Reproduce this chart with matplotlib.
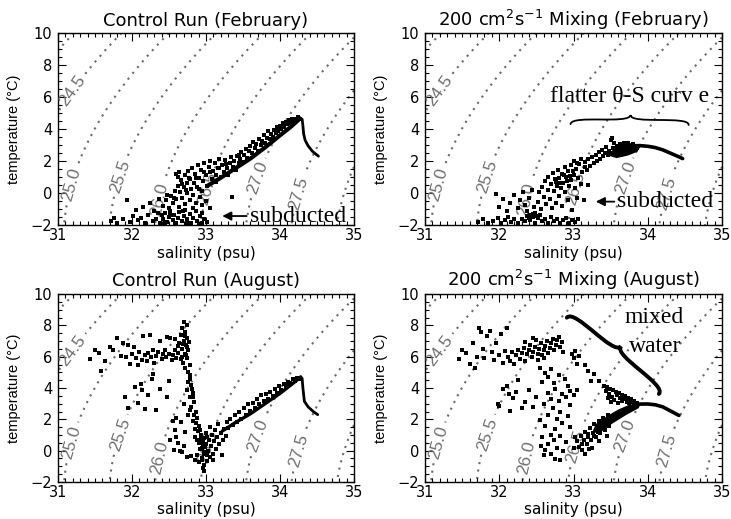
import numpy as np
import matplotlib.pyplot as plt
from matplotlib import font_manager
from matplotlib.path import Path
from matplotlib.patches import PathPatch, Polygon
from matplotlib.ticker import MultipleLocator

# density levels drawn; labels go at the positions below (24.5 ... 27.5)
sigma_levels = [24.0, 24.5, 25.0, 25.5, 26.0, 26.5, 27.0, 27.5, 28.0]
label_pos = [(31.22, 6.3), (31.12, 0.6), (31.80, 1.1), (32.34, -0.4),
             (33.00, 0.3), (33.69, 0.95), (34.24, 0.0)]

# ---- Control run, February ----
feb_ctrl_core = [(33.02, 0.45), (33.2, 0.95), (33.4, 1.55), (33.6, 2.15), (33.8, 2.85),
                 (34.0, 3.6), (34.15, 4.15), (34.27, 4.65)]
feb_ctrl_drop = [(34.27, 4.7), (34.30, 4.6), (34.31, 4.2), (34.32, 3.7), (34.34, 3.3),
                 (34.38, 2.95), (34.44, 2.6), (34.52, 2.3)]
feb_ctrl_pts = [
    (31.72, -1.75), (31.76, -1.55), (31.80, -1.85), (31.88, -1.65), (31.93, -0.45), (31.97, -1.80),
    (32.02, -1.45), (32.05, -1.05), (32.08, -1.70), (32.12, -1.55), (32.15, -0.90), (32.18, -1.85),
    (32.22, -1.35), (32.25, -0.60), (32.28, -1.75), (32.30, -1.10), (32.33, -1.60), (32.36, -0.35),
    (32.38, -1.85), (32.40, -1.40),
    (32.42, -1.65), (32.45, -1.25), (32.47, -1.80), (32.50, -1.50), (32.52, -1.10), (32.55, -1.70),
    (32.57, -1.35), (32.60, -1.85), (32.62, -1.55), (32.64, -1.20), (32.67, -1.75), (32.70, -1.45),
    (32.72, -1.05), (32.75, -1.65), (32.78, -1.30), (32.80, -1.85), (32.83, -1.55), (32.86, -1.15),
    (32.88, -1.75), (32.92, -1.45), (32.95, -1.85), (32.98, -1.60), (33.02, -1.80), (32.44, -1.90),
    (32.58, -1.92), (32.74, -1.90), (32.90, -1.92),
    (32.42, -0.80), (32.46, -0.45), (32.50, -0.95), (32.53, -0.20), (32.55, -0.65), (32.58, 0.10),
    (32.60, -0.40), (32.62, 0.45), (32.63, -0.85), (32.65, 0.05), (32.66, 0.80), (32.68, -0.30),
    (32.70, 0.35), (32.71, 1.10), (32.72, -0.70), (32.74, 0.65), (32.75, 0.00), (32.76, 1.35),
    (32.78, -0.45), (32.79, 0.90), (32.80, 0.25), (32.81, 1.55), (32.83, -0.15), (32.84, 0.60),
    (32.85, 1.20), (32.87, -0.60), (32.88, 0.40), (32.89, 1.75), (32.90, 0.95), (32.92, -0.25),
    (32.93, 1.45), (32.95, 0.15), (32.96, 0.75), (32.98, 1.90), (33.00, -0.50), (33.00, 1.10),
    (32.60, 1.20), (32.62, 1.00), (32.64, 1.30), (32.68, 0.55), (32.73, 0.20), (32.77, 0.95),
    (32.82, -0.95), (32.86, 0.95), (32.91, 0.25), (32.94, -0.75), (32.97, 1.30), (32.69, -1.10),
    (32.57, -0.30), (32.52, -1.35), (32.48, -0.10), (32.35, -1.25),
    (33.02, 0.45), (33.04, 1.60), (33.06, 2.00), (33.08, 0.90), (33.10, 1.35), (33.12, 1.85),
    (33.14, 0.70), (33.16, 1.55), (33.18, 2.10), (33.20, 1.00), (33.22, 1.75), (33.24, 1.30),
    (33.26, 2.05), (33.28, 1.55), (33.30, 1.15), (33.32, 1.90), (33.34, 2.25), (33.36, 1.60),
    (33.38, 2.00), (33.40, 1.45), (33.42, 2.30), (33.44, 1.85), (33.46, 2.15), (33.48, 2.55),
    (33.50, 1.95), (33.52, 2.35), (33.54, 2.75), (33.56, 2.20), (33.58, 2.60), (33.60, 2.95),
    (33.35, -0.25), (33.05, -0.95), (32.95, -1.25), (33.13, 1.10), (33.27, 1.80), (33.45, 2.40),
    (33.05, 1.30), (33.18, 1.55),
    (33.62, 2.50), (33.64, 3.20), (33.66, 2.80), (33.68, 3.05), (33.70, 2.65), (33.72, 3.40),
    (33.74, 3.00), (33.76, 3.25), (33.78, 3.60), (33.80, 3.15), (33.82, 3.45), (33.84, 3.85),
    (33.86, 3.35), (33.88, 3.70), (33.90, 3.50), (33.92, 3.95), (33.94, 3.75), (33.96, 4.10),
    (33.98, 3.85), (34.00, 4.20), (34.02, 4.00), (34.04, 4.35), (34.06, 4.15), (34.08, 4.45),
    (34.10, 4.30), (34.12, 4.55), (34.14, 4.40), (34.16, 4.60), (34.18, 4.50), (34.20, 4.65),
    (34.22, 4.55), (34.24, 4.75), (34.26, 4.60),
]

# ---- 200 cm2/s mixing, February ----
feb_mix_blob = [(33.46, 2.35), (33.53, 2.70), (33.60, 3.00), (33.72, 3.15), (33.84, 3.06),
                (33.90, 2.88), (33.86, 2.58), (33.74, 2.35), (33.58, 2.18)]
feb_mix_tail = [(33.80, 2.95), (33.90, 2.96), (34.00, 2.92), (34.10, 2.84), (34.20, 2.70),
                (34.30, 2.50), (34.40, 2.30), (34.47, 2.15)]
feb_mix_pts = [
    (31.72, -1.80), (31.78, -1.65), (31.85, -1.88), (31.92, -1.75), (31.98, -1.55), (32.03, -1.85),
    (32.08, -1.70), (32.12, -1.50), (32.16, -1.82), (32.20, -1.65), (32.25, -1.88), (32.30, -1.60),
    (32.34, -1.78), (32.38, -1.45), (32.42, -1.70), (32.45, -1.30), (32.48, -1.85), (32.52, -1.55),
    (32.55, -1.40), (32.58, -1.75), (32.62, -1.60), (32.66, -1.85), (32.70, -1.50), (32.74, -1.75),
    (32.78, -1.60), (32.82, -1.85), (32.86, -1.70), (32.90, -1.55), (32.94, -1.85), (32.98, -1.70),
    (33.02, -1.80), (33.06, -1.60), (32.40, -1.55), (32.44, -1.40), (32.42, -1.35), (32.46, -1.50),
    (32.48, -1.25), (32.50, -1.45),
    (31.95, -0.05), (32.00, -0.85), (32.05, -0.40), (32.10, -1.10), (32.15, -0.65), (32.20, -0.15),
    (32.25, -0.95), (32.28, -0.45), (32.32, 0.05), (32.35, -0.75), (32.38, -1.15), (32.40, -0.30),
    (32.44, 0.20), (32.47, -0.85),
    (32.52, -0.55), (32.54, 0.05), (32.56, -1.00), (32.58, 0.40), (32.60, -0.25), (32.62, 0.75),
    (32.63, -0.70), (32.65, 0.20), (32.66, 1.00), (32.68, -0.40), (32.70, 0.55), (32.71, -0.95),
    (32.72, 1.25), (32.74, 0.10), (32.75, 0.85), (32.76, -0.60), (32.78, 0.45), (32.79, 1.45),
    (32.80, -0.20), (32.81, 0.95), (32.83, 0.30), (32.84, 1.20), (32.85, -0.80), (32.86, 0.65),
    (32.88, 1.60), (32.89, 0.05), (32.90, 1.00), (32.92, -0.45), (32.93, 1.35), (32.94, 0.45),
    (32.96, 1.75), (32.97, 0.80), (32.98, -1.05), (33.00, 1.15), (33.02, 0.30), (33.03, 1.50),
    (33.05, -0.30), (33.06, 0.95), (33.08, 1.80), (33.10, 0.55), (33.12, 1.30), (33.14, -0.45),
    (33.16, 1.60), (33.19, 0.50), (32.77, 0.70), (32.82, 0.60), (32.87, 1.10), (32.91, 0.75),
    (32.95, 1.05), (32.99, 1.40),
    (33.15, 1.95), (33.18, 1.45), (33.20, 2.10), (33.22, 1.70), (33.25, 2.25), (33.27, 1.85),
    (33.30, 2.40), (33.32, 2.00), (33.34, 2.55), (33.36, 2.15), (33.38, 2.70), (33.40, 2.30),
    (33.42, 2.50), (33.44, 2.85), (33.46, 2.35), (33.48, 2.65), (33.50, 3.30), (33.52, 3.45),
    (33.55, 3.10), (33.00, 2.00), (33.05, 1.90), (33.10, 2.15),
    (33.50, 2.50), (33.53, 2.80), (33.56, 2.40), (33.58, 2.95), (33.60, 2.60), (33.62, 3.05),
    (33.64, 2.35), (33.66, 2.75), (33.68, 3.15), (33.70, 2.50), (33.72, 2.90), (33.74, 3.10),
    (33.76, 2.60), (33.78, 2.85), (33.80, 3.05), (33.82, 2.70), (33.84, 2.95), (33.86, 2.80),
]

# ---- Control run, August ----
aug_ctrl_core = [(33.22, 1.25), (33.4, 1.8), (33.6, 2.35), (33.8, 3.0), (34.0, 3.65),
                 (34.15, 4.2), (34.28, 4.7)]
aug_ctrl_drop = [(34.28, 4.72), (34.30, 4.6), (34.31, 4.0), (34.33, 3.15), (34.38, 2.8),
                 (34.45, 2.5), (34.51, 2.3)]
aug_ctrl_pts = [
    (31.43, 5.85), (31.50, 6.45), (31.55, 6.25), (31.58, 5.10), (31.63, 5.75), (31.70, 6.60),
    (31.75, 6.40), (31.80, 7.20), (31.85, 6.05), (31.88, 6.90), (31.92, 5.95), (31.95, 6.75),
    (31.98, 5.55), (32.00, 6.15), (32.03, 6.60), (32.05, 5.90), (32.08, 5.45), (32.10, 6.30),
    (32.13, 5.80), (32.15, 7.35), (32.18, 6.10), (32.20, 5.70), (32.22, 6.25), (32.24, 7.40),
    (32.26, 5.95), (32.28, 6.40), (32.30, 5.60), (32.32, 6.05), (32.35, 6.30), (32.38, 7.00),
    (32.40, 5.85), (32.42, 6.15), (32.44, 6.40), (32.46, 5.95), (32.48, 7.25), (32.50, 6.20),
    (32.52, 7.20), (32.54, 5.80), (32.56, 6.10), (32.58, 6.45), (32.60, 5.90), (32.62, 6.25),
    (32.64, 6.90), (32.66, 7.40), (32.67, 6.50), (32.68, 7.80), (32.69, 5.60), (32.70, 8.20),
    (32.70, 7.00), (32.71, 6.20), (32.72, 7.60), (32.72, 5.30), (32.73, 6.75), (32.74, 8.00),
    (32.74, 5.90), (32.75, 7.20), (32.76, 6.40), (32.76, 5.05), (32.77, 6.95), (32.78, 5.50),
    (32.68, 6.00), (32.66, 5.85), (32.62, 6.65), (32.58, 7.10), (32.71, 7.30), (32.73, 6.10),
    (32.69, 6.80), (32.75, 6.60),
    (32.78, 4.80), (32.76, 4.40), (32.80, 4.20), (32.74, 3.90), (32.82, 3.70), (32.78, 3.40),
    (32.84, 3.10), (32.70, 3.00), (32.80, 2.80), (32.86, 2.50), (32.76, 2.30), (32.88, 2.10),
    (32.82, 1.90), (32.66, 1.80), (32.90, 1.60), (32.85, 1.40), (32.72, 1.20), (32.93, 1.00),
    (32.60, 0.90), (32.88, 0.70), (32.96, 0.40), (32.70, 0.30), (32.92, 0.10), (32.65, 0.00),
    (32.97, -0.20), (32.80, -0.35), (32.95, -0.60), (32.98, -0.90), (32.96, -1.10), (32.97, -1.30),
    (32.60, 2.10), (32.55, 1.90), (32.58, 1.30), (32.52, 0.70), (32.62, 0.50), (32.68, -0.10),
    (32.75, -0.40), (32.57, 0.05), (32.79, 4.55), (32.81, 3.95), (32.83, 3.45), (32.79, 2.60),
    (32.84, 2.25), (32.86, 1.75), (32.89, 1.25),
    (31.91, 3.45), (31.95, 2.70), (32.04, 4.07), (32.08, 3.05), (32.13, 3.86), (32.17, 2.65),
    (32.22, 3.55), (32.27, 4.60), (32.29, 4.90), (32.33, 2.60), (32.38, 3.95), (32.47, 3.45),
    (32.50, 4.45), (32.12, 4.25),
    (32.85, 0.90), (32.88, -0.30), (32.90, 0.50), (32.92, 1.30), (32.94, -0.50), (32.95, 0.20),
    (32.97, 0.80), (32.98, -0.10), (33.00, 0.40), (33.00, 1.10), (33.02, -0.65), (33.03, 0.00),
    (33.04, 0.70), (33.05, 1.50), (33.06, -0.40), (33.07, 0.30), (33.08, 1.00), (33.10, -0.20),
    (33.11, 0.60), (33.12, 1.30), (33.14, 0.10), (33.15, 0.90), (33.16, 1.70), (33.18, 0.40),
    (33.20, 1.10), (33.22, -0.30), (33.23, 0.70), (33.25, 1.40), (33.27, 0.95), (33.29, 1.80),
    (32.90, -0.70), (32.85, -0.60), (33.10, -0.60), (32.96, 0.55), (32.99, 0.25), (33.01, -0.30),
    (32.93, 0.75), (33.02, 0.85),
    (33.30, 1.45), (33.33, 2.00), (33.36, 1.65), (33.39, 2.30), (33.42, 1.85), (33.45, 2.50),
    (33.48, 2.05), (33.51, 2.75), (33.54, 2.30), (33.57, 2.95), (33.60, 2.55), (33.63, 3.05),
    (33.66, 2.75), (33.69, 3.30), (33.72, 2.95), (33.75, 3.55), (33.78, 3.15), (33.81, 3.60),
    (33.84, 3.30), (33.87, 3.75), (33.90, 3.50), (33.93, 3.95), (33.96, 3.70), (33.99, 4.10),
    (34.02, 3.90), (34.05, 4.25), (34.08, 4.10), (34.11, 4.40), (34.14, 4.30), (34.17, 4.55),
    (34.20, 4.45), (34.23, 4.65), (34.26, 4.60),
]

# ---- 200 cm2/s mixing, August ----
aug_mix_wedge = [(33.25, 1.15), (33.30, 1.70), (33.45, 2.20), (33.60, 2.62), (33.75, 2.93),
                 (33.90, 3.05), (33.88, 2.72), (33.70, 2.25), (33.52, 1.72), (33.36, 1.15)]
aug_mix_tail = [(33.85, 2.97), (34.00, 2.98), (34.10, 2.93), (34.20, 2.80), (34.30, 2.55),
                (34.42, 2.25)]
aug_mix_pts = [
    (31.46, 5.85), (31.50, 6.45), (31.55, 6.25), (31.60, 5.55), (31.64, 6.90), (31.68, 5.30),
    (31.70, 6.00), (31.73, 7.85), (31.75, 7.60), (31.78, 6.50), (31.80, 5.90), (31.84, 7.35),
    (31.87, 7.65), (31.90, 6.30), (31.93, 5.80), (31.96, 6.85), (32.00, 6.10), (32.02, 7.45),
    (32.05, 5.60), (32.08, 6.35), (32.10, 7.80), (32.12, 6.00),
    (32.14, 5.75), (32.17, 6.30), (32.20, 5.55), (32.22, 6.10), (32.25, 6.45), (32.28, 5.85),
    (32.30, 6.25), (32.33, 6.55), (32.35, 5.70), (32.38, 6.15), (32.40, 6.40), (32.42, 6.75),
    (32.44, 5.95), (32.46, 6.30), (32.48, 6.60), (32.50, 7.05), (32.52, 6.20), (32.54, 6.50),
    (32.56, 6.85), (32.58, 6.10), (32.60, 6.40), (32.62, 6.70), (32.64, 7.00), (32.66, 6.25),
    (32.68, 6.55), (32.70, 6.85), (32.72, 7.15), (32.74, 6.45), (32.76, 6.75), (32.78, 7.05),
    (32.80, 7.25), (32.82, 6.60), (32.84, 6.95), (32.86, 6.30), (32.52, 5.80), (32.60, 5.90),
    (32.45, 7.20), (32.35, 6.95),
    (32.98, 6.20), (33.00, 5.90), (33.02, 6.35), (33.05, 5.55), (33.08, 6.05), (33.16, 5.45),
    (33.20, 5.10), (33.24, 4.45), (33.35, 4.45), (33.28, 4.90),
    (32.55, 5.30), (32.62, 4.95), (32.70, 5.20), (32.58, 4.40), (32.66, 4.70), (32.74, 4.35),
    (32.80, 4.85), (32.88, 4.55), (32.92, 4.15), (32.95, 3.80), (32.85, 3.60), (32.75, 3.95),
    (32.65, 3.70), (32.70, 3.30), (32.80, 3.15), (32.90, 3.40), (33.00, 3.55), (33.05, 3.85),
    (32.60, 2.95), (32.72, 2.70), (32.82, 2.45), (32.95, 2.90), (32.92, 2.20), (32.78, 2.00),
    (32.65, 2.30), (32.55, 1.95), (32.62, 1.60), (32.75, 1.40), (32.85, 1.75), (32.95, 1.50),
    (32.70, 1.00), (32.58, 0.85), (32.66, 0.40), (32.74, 0.70), (32.82, 0.95), (32.90, 0.55),
    (32.62, 0.05), (32.70, -0.20), (32.78, 0.20), (32.86, -0.05), (32.75, -0.55), (32.82, -0.60),
    (32.56, 0.30), (32.60, -0.30),
    (31.98, 3.00), (32.00, 2.85), (32.05, 3.95), (32.10, 4.10), (32.13, 3.60), (32.18, 3.35),
    (32.22, 3.75), (32.25, 4.50), (32.30, 2.70), (32.35, 3.10), (32.40, 3.85), (32.15, 2.55),
    (32.45, 2.80), (32.50, 3.40),
    (33.05, 0.60), (33.08, 0.25), (33.10, 0.95), (33.12, 0.05), (33.14, 0.70), (33.16, 1.20),
    (33.18, 0.40), (33.20, 0.90), (33.22, 1.45), (33.24, 0.65), (33.26, 1.15), (33.28, 1.70),
    (33.30, 0.85), (33.32, 1.40), (33.34, 1.90), (33.36, 1.10), (33.38, 1.60), (33.40, 2.10),
    (33.42, 1.35), (33.44, 1.85), (33.46, 2.30), (33.48, 1.60), (33.50, 2.05), (33.25, 0.20),
    (33.35, 0.60), (33.45, 0.95), (33.15, -0.20), (33.00, 0.15), (33.02, 0.90), (33.12, 0.45),
    (33.19, 1.05), (33.27, 0.95), (33.33, 1.20), (33.21, 0.10),
    (33.41, 4.15), (33.45, 4.06), (33.49, 3.95), (33.53, 3.87), (33.57, 3.77), (33.61, 3.68),
    (33.65, 3.57), (33.69, 3.47), (33.73, 3.37), (33.77, 3.27), (33.81, 3.16), (33.85, 3.07),
    (33.44, 3.80), (33.48, 3.62), (33.52, 3.45), (33.55, 3.25), (33.58, 3.55), (33.62, 3.35),
    (33.65, 3.15), (33.68, 3.28), (33.72, 3.12), (33.75, 3.02), (33.78, 3.10), (33.82, 2.98),
    (33.50, 3.10), (33.46, 3.35), (33.60, 3.05),
]

# annotation anchors (salinity, temperature)
feb_mix_brace = [(32.96, 4.31), (34.55, 4.25), (33.77, 4.875)]
aug_mix_brace = [(32.91, 8.49), (34.15, 3.62), (33.64, 6.66)]

names = {f.name for f in font_manager.fontManager.ttflist}
narrow = 'Liberation Sans Narrow' if 'Liberation Sans Narrow' in names else 'Liberation Sans'
serif = 'Liberation Serif'


def sigma0(s, t):
    rw = (999.842594 + 6.793952e-2 * t - 9.095290e-3 * t**2 + 1.001685e-4 * t**3
          - 1.120083e-6 * t**4 + 6.536332e-9 * t**5)
    a = 0.824493 - 4.0899e-3 * t + 7.6438e-5 * t**2 - 8.2467e-7 * t**3 + 5.3875e-9 * t**4
    b = -5.72466e-3 + 1.0227e-4 * t - 1.6546e-6 * t**2
    return rw + a * s + b * s**1.5 + 4.8314e-4 * s**2 - 1000.0


def brace(ax, p0, p1, tip, lw):
    p0, p1, tip = np.array(p0), np.array(p1), np.array(tip)
    m = (p0 + p1) / 2
    n = tip - m
    verts = [p0, p0 + n, m, tip, m, p1 + n, p1]
    codes = [Path.MOVETO] + [Path.CURVE4] * 6
    ax.add_patch(PathPatch(Path(verts, codes), fill=False, lw=lw, color='k',
                           capstyle='round', zorder=5))


sg, tg = np.meshgrid(np.linspace(31, 35, 201), np.linspace(-2, 10, 241))
sig = sigma0(sg, tg)

fig = plt.figure(figsize=(7.31, 5.19), dpi=100)
rects = [[0.0793, 0.5665, 0.4049, 0.3699], [0.5814, 0.5665, 0.4063, 0.3699],
         [0.0793, 0.0713, 0.4049, 0.3622], [0.5814, 0.0713, 0.4063, 0.3622]]
titles = ['Control Run (February)', r'200 cm$^2$s$^{-1}$ Mixing (February)',
          'Control Run (August)', r'200 cm$^2$s$^{-1}$ Mixing (August)']
pts_all = [feb_ctrl_pts, feb_mix_pts, aug_ctrl_pts, aug_mix_pts]
lines_all = [[(feb_ctrl_core, 3.0), (feb_ctrl_drop, 2.0)],
             [(feb_mix_tail, 2.6)],
             [(aug_ctrl_core, 2.4), (aug_ctrl_drop, 2.0)],
             [(aug_mix_tail, 2.6)]]

axes = []
for i in range(4):
    ax = fig.add_axes(rects[i])
    axes.append(ax)
    cs = ax.contour(sg, tg, sig, levels=sigma_levels, colors='#6a6a6a', linewidths=1.5,
                    zorder=1)
    cs.set_linestyle((0, (1, 2.6)))
    txts = ax.clabel(cs, manual=label_pos, inline=True, fmt='%.1f',
                     fontsize=12.5, colors='#707070', inline_spacing=2)
    for t in txts:
        t.set_fontfamily(narrow)

    s, t = zip(*pts_all[i])
    ax.scatter(s, t, s=5.5, marker='s', color='k', linewidths=0, zorder=3)
    for ln, w in lines_all[i]:
        ls, lt = zip(*ln)
        ax.plot(ls, lt, color='k', lw=w, solid_capstyle='round', zorder=3)

    ax.set_xlim(31, 35)
    ax.set_ylim(-2, 10)
    ax.xaxis.set_major_locator(MultipleLocator(1))
    ax.xaxis.set_minor_locator(MultipleLocator(0.1))
    ax.yaxis.set_major_locator(MultipleLocator(2))
    ax.yaxis.set_minor_locator(MultipleLocator(0.5))
    ax.tick_params(which='both', direction='in', top=True, right=True, width=0.8,
                   labelsize=10.5)
    ax.tick_params(which='major', length=6, pad=2)
    ax.tick_params(which='minor', length=3)
    ax.tick_params(axis='y', which='major', pad=4)
    for sp in ax.spines.values():
        sp.set_linewidth(1.0)
    ax.set_title(titles[i], fontsize=13, pad=5 if i < 2 else 6)
    ax.set_xlabel('salinity (psu)', fontsize=11)
    ax.xaxis.set_label_coords(0.5, -0.108)
    ax.set_ylabel('temperature (\u00b0C)', fontsize=10.5, family=narrow)
    ax.yaxis.set_label_coords(-0.125, 0.5)

# panel annotations
arrow = dict(arrowstyle='-|>', color='k', lw=1.3, mutation_scale=13, shrinkA=0, shrinkB=0)
axes[0].annotate('', xy=(33.22, -1.44), xytext=(33.55, -1.44), arrowprops=arrow, zorder=5)
axes[0].text(33.60, -1.44, 'subducted', family=serif, fontsize=17, va='center', zorder=5)
axes[1].annotate('', xy=(33.30, -0.54), xytext=(33.55, -0.54), arrowprops=arrow, zorder=5)
axes[1].text(33.58, -0.54, 'subducted', family=serif, fontsize=17, va='center', zorder=5)
axes[1].text(32.69, 6.02, 'flatter \u03b8-S curv e', family=serif, fontsize=17,
             va='center', zorder=5)
axes[1].add_patch(Polygon(feb_mix_blob, closed=True, color='k', lw=0, zorder=3))
brace(axes[1], *feb_mix_brace, lw=1.3)
axes[3].add_patch(Polygon(aug_mix_wedge, closed=True, color='k', lw=0, zorder=3))
axes[3].text(34.09, 8.47, 'mixed', family=serif, fontsize=17, ha='center', va='center',
             zorder=5)
axes[3].text(34.10, 6.68, 'water', family=serif, fontsize=17, ha='center', va='center',
             zorder=5)
brace(axes[3], *aug_mix_brace, lw=2.8)

fig.savefig('out.png', dpi=100)
